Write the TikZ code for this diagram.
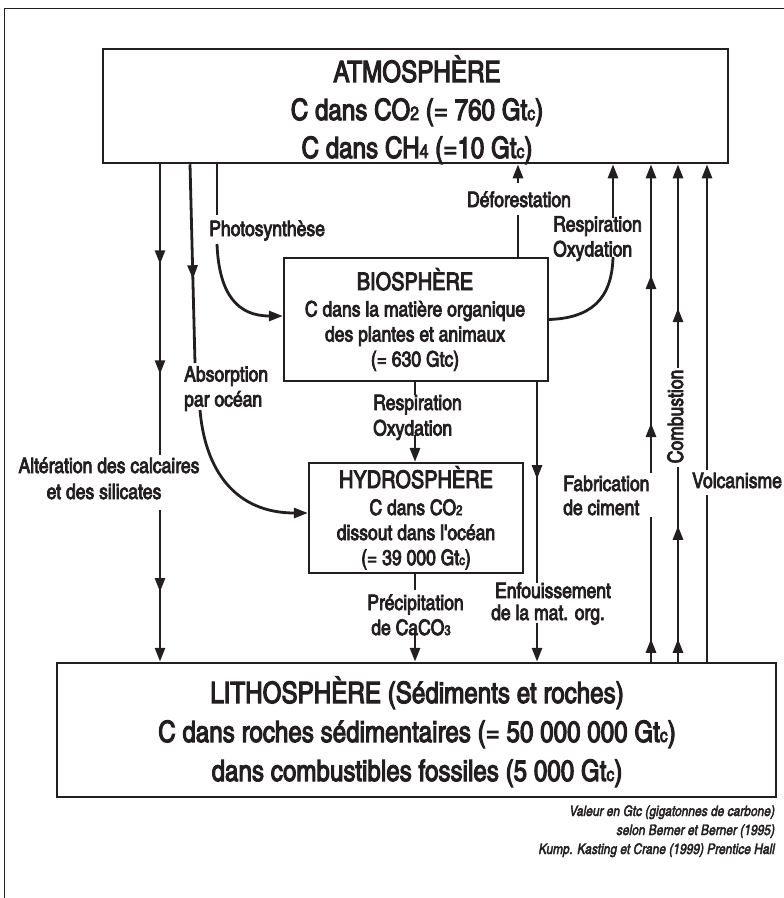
\documentclass[tikz,border=0pt]{standalone}
\usepackage{fontspec}
\setmainfont{texgyreheroscn-regular.otf}[ItalicFont=texgyreheroscn-italic.otf]
\newfontfamily\heavy{texgyreheroscn-regular.otf}[FakeBold=3.5]
\newfontfamily\heavyit{texgyreheroscn-italic.otf}[FakeBold=2.5]
\usetikzlibrary{arrows.meta,decorations.markings}
\definecolor{ink}{HTML}{231F20}
\newcommand\sm[1]{\scalebox{0.65}{#1}}
\tikzset{
  >={Triangle[width=10pt,length=14pt]},
  box/.style={draw, color=ink, line width=2.5pt, inner sep=0pt},
  flow/.style={draw, color=ink, line width=2.8pt},
  ma/.style={postaction={decorate,decoration={markings,mark=at position #1 with {\arrow{>}}}}},
  big/.style={font=\heavy\fontsize{29.5}{34}\selectfont, text=ink, inner sep=0pt, anchor=base},
  ttl/.style={font=\heavy\fontsize{24.3}{28}\selectfont, text=ink, inner sep=0pt, anchor=base},
  body/.style={font=\heavy\fontsize{21.4}{24}\selectfont, text=ink, inner sep=0pt, anchor=base},
  lab/.style={font=\heavy\fontsize{21.4}{24}\selectfont, text=ink, inner sep=0pt},
  note/.style={font=\heavyit\fontsize{14.6}{18}\selectfont, text=ink, inner sep=0pt, anchor=base east},
}
\begin{document}
\begin{tikzpicture}[x=1pt,y=-1pt]
\useasboundingbox (0,0) rectangle (784,898);
\draw[ink, line width=1pt] (4.5,898) -- (4.5,8) -- (784,8);

% boxes
\node[box, minimum width=625pt, minimum height=114pt] (atm) at (415.5,106) {};
\node[box, line width=2.2pt, minimum width=264pt, minimum height=123pt] (bio) at (416,319.5) {};
\node[box, line width=2.2pt, minimum width=214pt, minimum height=110pt] (hyd) at (416,518) {};
\node[box, minimum width=719pt, minimum height=134pt] (lith) at (416.5,730) {};

% box texts
\node[big] (atm1) at (417,82) {ATMOSPHÈRE};
\node[big] (atm2) at (417,120) {C dans CO\sm{2} (= 760 Gt\sm{c})};
\node[big] (atm3) at (417,158) {C dans CH\sm{4} (=10 Gt\sm{c})};

\node[ttl] (bio1) at (415,290) {BIOSPHÈRE};
\node[body] (bio2) at (415,316.5) {C dans la matière organique};
\node[body] (bio3) at (415,341.5) {des plantes et animaux};
\node[body] (bio4) at (415,366.5) {(= 630 Gtc)};

\node[ttl] (hyd1) at (416,488) {HYDROSPHÈRE};
\node[body] (hyd2) at (416,515) {C dans CO\sm{2}};
\node[body] (hyd3) at (416,540) {dissout dans l'océan};
\node[body] (hyd4) at (416,565) {(= 39 000 Gt\sm{c})};

\node[big] (lith1) at (417,703) {LITHOSPHÈRE (Sédiments et roches)};
\node[big] (lith2) at (417,742) {C dans roches sédimentaires (= 50 000 000 Gt\sm{c})};
\node[big] (lith3) at (417,781) {dans combustibles fossiles (5 000 Gt\sm{c})};

% labels
\node[lab, anchor=base west] (phot) at (209,236) {Photosynthèse};
\node[lab, anchor=base west] (abs1) at (184,381.5) {Absorption};
\node[lab, anchor=base west] (abs2) at (184,406.5) {par océan};
\node[lab, anchor=base] (alt1) at (109,473) {Altération des calcaires};
\node[lab, anchor=base] (alt2) at (104,499) {et des silicates};
\node[lab, anchor=base] (defo) at (519,207) {Déforestation};
\node[lab, anchor=base west] (rr1t) at (553,231.5) {Respiration};
\node[lab, anchor=base west] (rr2t) at (553,256.5) {Oxydation};
\node[lab, anchor=base west] (rm1t) at (373,410) {Respiration};
\node[lab, anchor=base west] (rm2t) at (373,435.5) {Oxydation};
\node[lab, anchor=base west] (fab1) at (563,491) {Fabrication};
\node[lab, anchor=base west] (fab2) at (563,515) {de ciment};
\node[lab, anchor=base west] (volc) at (692,488) {Volcanisme};
\node[lab, anchor=base, rotate=90] (comb) at (683,416.5) {Combustion};
\node[lab, anchor=base] (enf1) at (553,598) {Enfouissement};
\node[lab, anchor=base] (enf2) at (548,620) {de la mat. org.};
\node[lab, anchor=base] (pre1) at (415.5,610) {Précipitation};
\node[lab, anchor=base] (pre2) at (411,635) {de CaCO\sm{3}};

\node[note] (n1) at (775,816) {Valeur en Gtc (gigatonnes de carbone)};
\node[note] (n2) at (775,835) {selon Berner et Berner (1995)};
\node[note] (n3) at (775,854) {Kump. Kasting et Crane (1999) Prentice Hall};

% connector break points
\coordinate (c1a) at (160,455); \coordinate (c1b) at (160,510);
\coordinate (ab1) at (195,363); \coordinate (ab2) at (200,410);
\coordinate (ph1) at (217,215); \coordinate (ph2) at (217,244);
\coordinate (df1) at (518,215); \coordinate (df2) at (518,183);
\coordinate (rr1) at (613,257); \coordinate (rr2) at (613,218);
\coordinate (rm1) at (415,395); \coordinate (rm2) at (415,435);
\coordinate (en1) at (537,583); \coordinate (en2) at (537,623);
\coordinate (pr1) at (415,590); \coordinate (pr2) at (415,628);
\coordinate (fa1) at (651,517); \coordinate (fa2) at (651,473);
\coordinate (co1) at (678,467); \coordinate (co2) at (678,368);
\coordinate (vo1) at (707,495); \coordinate (vo2) at (707,470);

% Altération
\draw[flow, ma=100pt, ma=210pt] (160,0 |- atm.south) -- (c1a);
\draw[flow, ->, ma=82pt] (c1b) -- (160,0 |- lith.north);
% Absorption
\draw[flow, ma=115pt] (190,0 |- atm.south) -- (ab1);
\draw[flow, ->] (ab2) .. controls (205,470) and (235,513) .. ([yshift=5pt]hyd.west);
% Photosynthese
\draw[flow] (217,0 |- atm.south) -- (ph1);
\draw[flow, ->] (ph2) .. controls (219,295) and (238,316) .. ([yshift=3.5pt]bio.west);
% Deforestation
\draw[flow] (518,0 |- bio.north) -- (df1);
\draw[flow, ->] (df2) -- (518,0 |- atm.south);
% Respiration (biosphere -> atmosphere)
\draw[flow] (bio.east) .. controls (590,318) and (612,300) .. (rr1);
\draw[flow, ->] (rr2) -- (613,0 |- atm.south);
% Respiration (biosphere -> hydrosphere)
\draw[flow] (415,0 |- bio.south) -- (rm1);
\draw[flow, ->] (rm2) -- (415,0 |- hyd.north);
% Enfouissement
\draw[flow, ma=97pt] (537,0 |- bio.south) -- (en1);
\draw[flow, ->] (en2) -- (537,0 |- lith.north);
% Precipitation
\draw[flow] (415,0 |- hyd.south) -- (pr1);
\draw[flow, ->] (pr2) -- (415,0 |- lith.north);
% Fabrication de ciment
\draw[flow, ma=23pt] (651,0 |- lith.north) -- (fa1);
\draw[flow, ->, ma=50pt, ma=198pt] (fa2) -- (651,0 |- atm.south);
% Combustion
\draw[flow, ma=23pt, ma=136pt] (678,0 |- lith.north) -- (co1);
\draw[flow, ->, ma=60pt] (co2) -- (678,0 |- atm.south);
% Volcanisme
\draw[flow] (707,0 |- lith.north) -- (vo1);
\draw[flow, ->] (vo2) -- (707,0 |- atm.south);
\end{tikzpicture}
\end{document}
